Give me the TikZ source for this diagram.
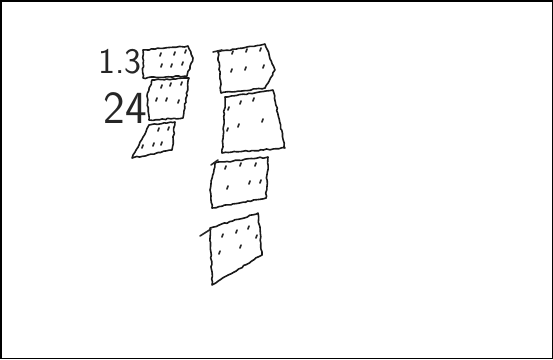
\documentclass[tikz,border=0pt]{standalone}
\usepackage{tikz}
\usetikzlibrary{decorations.pathmorphing}
\tikzstyle{sheet} = [draw=black!90, line width=1.6pt, line join=round, decorate, decoration={random steps, segment length=3pt, amplitude=0.7pt}]
\tikzstyle{dotmark} = [line width=1.6pt, line cap=round, draw=black!85]
\tikzstyle{scrawl} = [font=\sffamily, inner sep=0pt, text=black!85]

\begin{document}
\begin{tikzpicture}[x=1pt, y=-1pt]
  \useasboundingbox (0,0) rectangle (553,359);
  \draw[line width=1.5pt] (0.75,0.75) rectangle (552.25,358.25);

  % left column
  \node[scrawl, font=\fontsize{36}{36}\sffamily] (lbla) at (120,62) {1.3};
  \node[scrawl, font=\fontsize{46}{46}\sffamily] (lblb) at (125,108) {24};
  \draw[sheet] (143,50) -- (188,46) -- (193,58) -- (187,76) -- (143,78) -- cycle;
  \draw[sheet] (152,80) -- (189,78) -- (183,118) -- (149,120) -- (147,96) -- cycle;
  \draw[sheet] (149,125) -- (175,122) -- (172,150) -- (132,158) -- cycle;

  % right column
  \draw[sheet] (218,52) -- (265,44) -- (275,70) -- (265,88) -- (221,93) -- cycle;
  \draw[sheet] (225,97) -- (273,90) -- (285,148) -- (222,153) -- cycle;
  \draw[sheet] (215,163) -- (268,157) -- (266,198) -- (212,208) -- (210,190) -- cycle;
  \draw[sheet] (210,228) -- (258,213) -- (262,255) -- (212,285) -- cycle;
  \draw[dotmark] (200,236) -- (211,229);
  \draw[dotmark] (213,52) -- (222,50);
  \draw[dotmark] (211,165) -- (218,160);

  % dots
  \foreach \px/\py in {160/56, 174/55, 185/53, 161/67, 171/67, 182/65,
                       161/88, 170/86, 181/85, 156/101, 166/101, 178/103,
                       158/131, 168/130, 142/148, 153/146, 161/145,
                       232/54, 246/52, 260/51, 231/72, 245/70, 263/68,
                       228/110, 240/104, 253/101, 227/131, 238/127, 262/122,
                       225/169, 240/166, 255/166, 227/189, 249/184, 260/183,
                       222/237, 236/233, 248/229, 219/254, 240/248, 256/238}
    \draw[dotmark] (\px,\py) -- ++(1,-3);
\end{tikzpicture}
\end{document}
